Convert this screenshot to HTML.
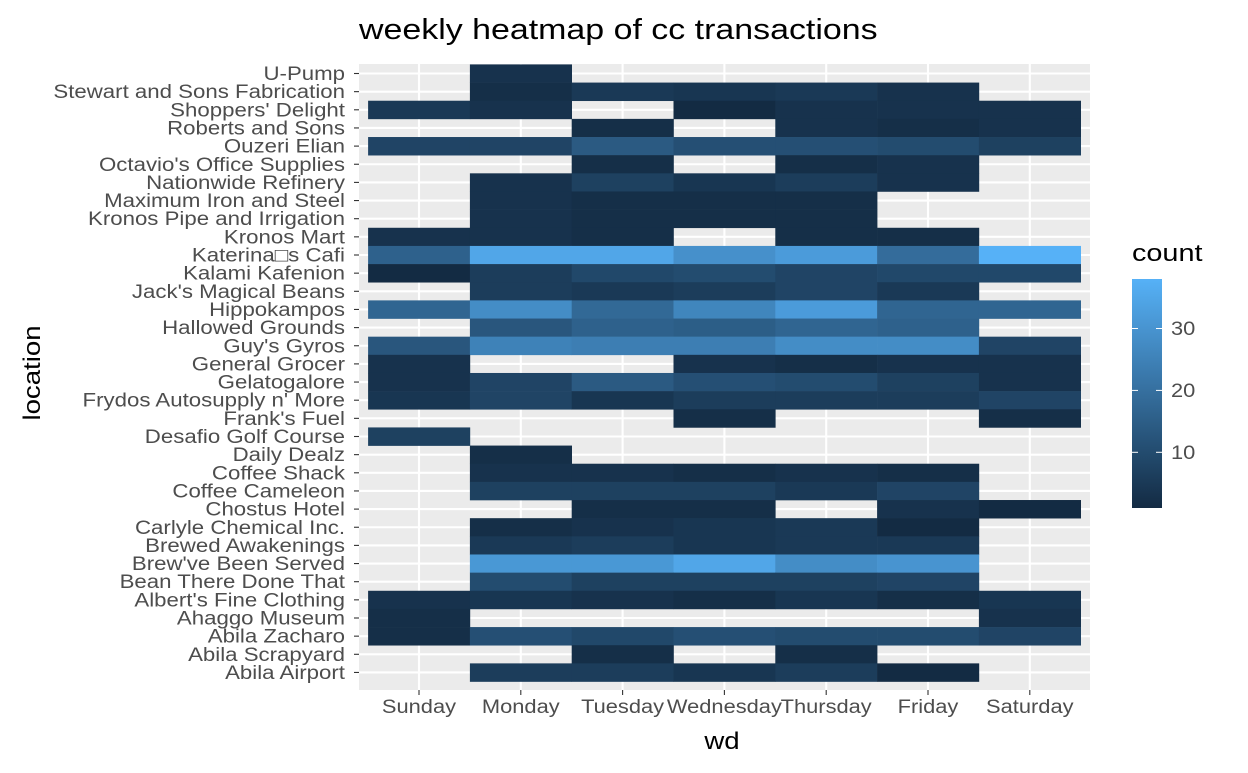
<!DOCTYPE html>
<html><head><meta charset="utf-8"><style>
body{margin:0;background:#fff;}
svg text{font-family:"Liberation Sans",Arial,sans-serif;}
</style></head><body>
<svg id="chart" width="1248" height="768" xmlns="http://www.w3.org/2000/svg"></svg>
<script>
const days = ["Sunday","Monday","Tuesday","Wednesday","Thursday","Friday","Saturday"];
const locations = ["U-Pump","Stewart and Sons Fabrication","Shoppers' Delight","Roberts and Sons","Ouzeri Elian","Octavio's Office Supplies","Nationwide Refinery","Maximum Iron and Steel","Kronos Pipe and Irrigation","Kronos Mart","Katerina\u25a1s Cafi","Kalami Kafenion","Jack's Magical Beans","Hippokampos","Hallowed Grounds","Guy's Gyros","General Grocer","Gelatogalore","Frydos Autosupply n' More","Frank's Fuel","Desafio Golf Course","Daily Dealz","Coffee Shack","Coffee Cameleon","Chostus Hotel","Carlyle Chemical Inc.","Brewed Awakenings","Brew've Been Served","Bean There Done That","Albert's Fine Clothing","Ahaggo Museum","Abila Zacharo","Abila Scrapyard","Abila Airport"];
const N = null;
const counts = [
[N,3,N,N,N,N,N],
[N,2,5,4,5,3,N],
[5,3,N,1,3,3,3],
[N,N,2,N,3,2,3],
[8,8,14,11,11,10,7],
[N,N,2,N,2,3,N],
[N,3,7,4,6,3,N],
[N,3,2,2,2,N,N],
[N,3,2,2,2,N,N],
[3,3,2,N,2,2,N],
[16,35,35,29,32,19,38],
[1,6,9,10,8,9,9],
[N,6,5,6,8,5,N],
[17,28,18,26,32,17,17],
[N,13,16,15,17,16,N],
[13,25,24,24,28,28,8],
[3,N,N,3,2,3,3],
[3,8,14,11,10,7,3],
[4,8,4,6,6,6,8],
[N,N,N,2,N,N,2],
[7,N,N,N,N,N,N],
[N,2,N,N,N,N,N],
[N,3,3,2,3,2,N],
[N,7,7,7,5,8,N],
[N,N,2,2,N,3,1],
[N,2,3,4,5,1,N],
[N,5,6,4,5,5,N],
[N,31,31,35,28,30,N],
[N,10,7,7,7,8,N],
[3,4,3,2,4,2,4],
[2,N,N,N,N,N,3],
[2,11,9,11,10,10,8],
[N,N,2,N,2,N,N],
[N,6,6,4,6,1,N]];
const legendTicks = [10,20,30];
const vmin = 1, vmax = 38;

const svg = document.getElementById('chart');
const NS = 'http://www.w3.org/2000/svg';
function mk(tag, attrs, parent){const e=document.createElementNS(NS,tag);for(const k in attrs)e.setAttribute(k,attrs[k]);(parent||svg).appendChild(e);return e;}
function stretch(e,r){const w=e.getComputedTextLength();e.setAttribute('textLength',(w*r).toFixed(1));e.setAttribute('lengthAdjust','spacingAndGlyphs');}
const px0=359, px1=1090, py0=64, py1=690;
const colW=101.8, rowH=18.15, x0=419, y0=73.5;
const xs = i => x0 + i*colW;
const ys = j => y0 + j*rowH;
function col(v){const t=Math.max(0,Math.min(1,(v-vmin)/(vmax-vmin)));
 const a=[0x13,0x2B,0x43],b=[0x56,0xB1,0xF7];
 return 'rgb('+a.map((c,i)=>Math.round(c+(b[i]-c)*t)).join(',')+')';}

const panel = mk('rect',{x:px0,y:py0,width:px1-px0,height:py1-py0,fill:'#EBEBEB'});


days.forEach((d,i)=>{const l=mk('line',{x1:xs(i),x2:xs(i),y1:py0,y2:py1,stroke:'#fff','stroke-width':2.1});
 
 });
locations.forEach((n,j)=>{const l=mk('line',{x1:px0,x2:px1,y1:ys(j),y2:ys(j),stroke:'#fff','stroke-width':2.1});
 
 });
counts.forEach((row,j)=>row.forEach((v,i)=>{ if(v===null) return;
 const r=mk('rect',{x:xs(i)-colW/2,y:ys(j)-rowH/2,width:colW+0.3,height:rowH+0.3,fill:col(v)});
 
 }));
locations.forEach((n,j)=>{
 const t=mk('text',{x:345,y:ys(j)+6.5,'text-anchor':'end','font-size':19,fill:'#4D4D4D'});t.textContent=n;
 
 
 stretch(t,1.17);
 const k=mk('line',{x1:354,x2:359,y1:ys(j),y2:ys(j),stroke:'#333','stroke-width':1.1});
 
 });
days.forEach((d,i)=>{
 const t=mk('text',{x:xs(i),y:713,'text-anchor':'middle','font-size':19,fill:'#4D4D4D'});t.textContent=d;
 
 
 stretch(t,1.15);
 const k=mk('line',{x1:xs(i),x2:xs(i),y1:690,y2:695,stroke:'#333','stroke-width':1.1});
 
 });
let t=mk('text',{x:359,y:39,'font-size':29,fill:'#000'});t.textContent='weekly heatmap of cc transactions';


stretch(t,1.17);
t=mk('text',{x:722,y:749,'text-anchor':'middle','font-size':24,fill:'#000'});t.textContent='wd';


stretch(t,1.15);
t=mk('text',{x:40,y:373,'text-anchor':'middle','font-size':24,fill:'#000',transform:'rotate(-90 40 373)'});t.textContent='location';


stretch(t,1.15);
// legend
t=mk('text',{x:1132,y:261,'font-size':24,fill:'#000'});t.textContent='count';


stretch(t,1.2);
const defs=mk('defs',{});
const g=mk('linearGradient',{id:'lg',x1:0,y1:1,x2:0,y2:0},defs);
for(let s=0;s<=10;s++){mk('stop',{offset:s/10,'stop-color':col(vmin+(vmax-vmin)*s/10)},g);}
const lb0=508, lb1=279;
const ly = v => lb0 - (v-vmin)/(vmax-vmin)*(lb0-lb1);
const bar=mk('rect',{x:1132,y:lb1,width:30,height:lb0-lb1,fill:'url(#lg)'});


legendTicks.forEach(v=>{
 const a=mk('line',{x1:1132,x2:1138,y1:ly(v),y2:ly(v),stroke:'#fff','stroke-width':1});
 
 
 const b=mk('line',{x1:1156,x2:1162,y1:ly(v),y2:ly(v),stroke:'#fff','stroke-width':1});
 
 
 const l=mk('text',{x:1171,y:ly(v)+6.5,'font-size':19,fill:'#4D4D4D'});l.textContent=v;
 
 
 stretch(l,1.15);});
</script>
</body></html>
